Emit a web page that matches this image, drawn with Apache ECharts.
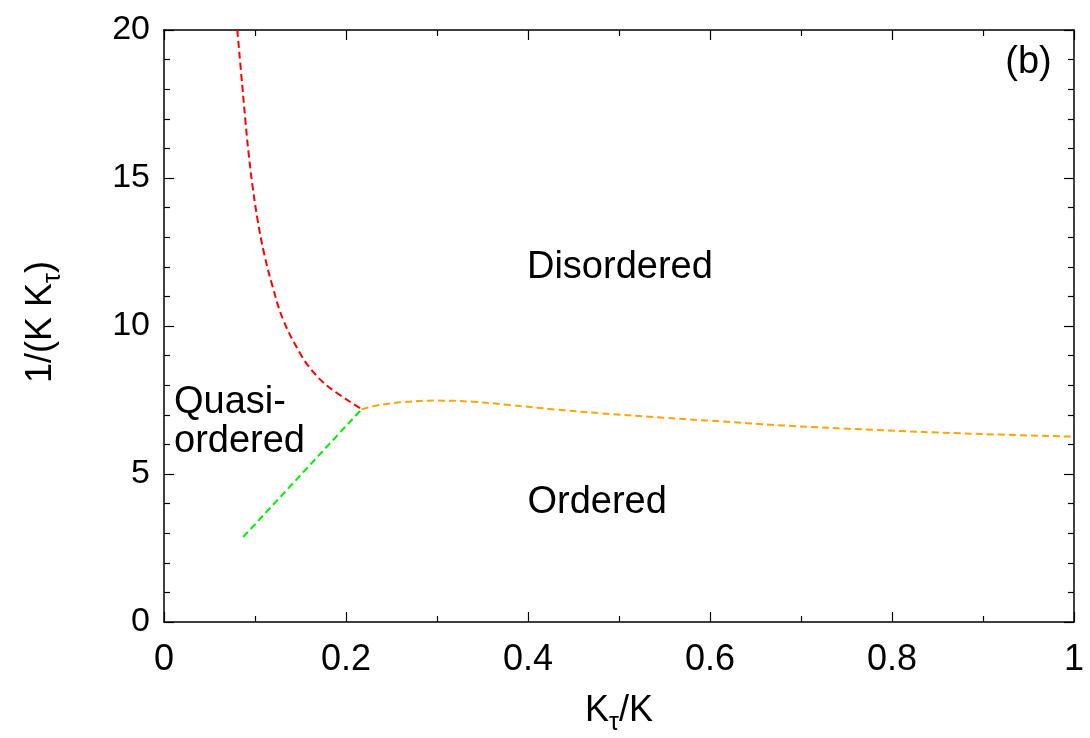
<!DOCTYPE html>
<html>
<head>
<meta charset="utf-8">
<script src="https://cdn.jsdelivr.net/npm/echarts@6/dist/echarts.min.js"></script>
<style>
  html, body { margin: 0; padding: 0; background: #fff; }
  #chart { width: 1090px; height: 738px; }
</style>
</head>
<body>
<div id="chart"></div>
<script>
// phase boundaries [Kτ/K, 1/(K Kτ)]
const redLine = [
  [0.0806, 20.0], [0.0861, 18.08], [0.0894, 16.96], [0.0930, 15.83],
  [0.0974, 14.71], [0.1029, 13.58], [0.110, 12.45], [0.1194, 11.33],
  [0.1311, 10.20], [0.1495, 9.08], [0.1623, 8.51], [0.1806, 7.95],
  [0.2172, 7.19]
];
const greenLine = [[0.087, 2.87], [0.2172, 7.19]];
const orangeLine = [
  [0.2172, 7.19], [0.235, 7.32], [0.26, 7.42], [0.30, 7.48], [0.34, 7.44],
  [0.38, 7.33], [0.43, 7.18], [0.48, 7.05], [0.55, 6.90], [0.60, 6.80],
  [0.68, 6.64], [0.78, 6.49], [0.88, 6.37], [1.0, 6.26]
];
// region labels  [x, y, text, align]
const annotations = [
  [0.501, 11.96, 'Disordered', 'center'],
  [0.476, 4.02, 'Ordered', 'center'],
  [0.011, 6.77, 'Quasi-\nordered', 'left'],
  [0.95, 18.9, '(b)', 'center']
];
const xTicks = { min: 0, max: 1, interval: 0.2 };
const yTicks = { min: 0, max: 20, interval: 5 };
const xTitle = '{big|K}{sub|τ}{big|/K}';
const yTitle = '{big|1/(K K}{sub|τ}{big|)}';

const font = 'Liberation Sans, Arial, Helvetica, sans-serif';
const chart = echarts.init(document.getElementById('chart'));

function dashed(color) {
  return { color: color, width: 2, type: [7, 4] };
}

const axisLine = { show: true, onZero: false, lineStyle: { color: '#000', width: 1.5 } };
const tick = { inside: true, length: 10, lineStyle: { color: '#000', width: 1.2 } };
const minor = n => ({ show: true, splitNumber: n, length: 6, lineStyle: { color: '#000', width: 1.2 } });

// axis titles with a subscript tau (rich text in the axis name came out too small)
const titleRich = {
  big: { fontSize: 36, fontFamily: font, color: '#000', lineHeight: 44 },
  sub: { fontSize: 25, fontFamily: font, color: '#000', lineHeight: 44, padding: [24, 0, 0, 0] }
};

const option = {
  animation: false,
  backgroundColor: '#fff',
  grid: { left: 164, right: 16, top: 30, bottom: 116 },
  xAxis: [
    {
      type: 'value', min: xTicks.min, max: xTicks.max, interval: xTicks.interval,
      position: 'bottom',
      axisLine: axisLine,
      axisTick: tick,
      minorTick: minor(2),
      splitLine: { show: false },
      axisLabel: {
        margin: 20, color: '#000', fontSize: 36, fontFamily: font,
        formatter: v => String(+v.toFixed(1))
      }
    },
    {
      type: 'value', min: xTicks.min, max: xTicks.max, interval: xTicks.interval,
      position: 'top',
      axisLine: axisLine,
      axisTick: tick,
      minorTick: minor(2),
      splitLine: { show: false },
      axisLabel: { show: false }
    }
  ],
  yAxis: [
    {
      type: 'value', min: yTicks.min, max: yTicks.max, interval: yTicks.interval,
      position: 'left',
      axisLine: axisLine,
      axisTick: tick,
      minorTick: minor(5),
      splitLine: { show: false },
      axisLabel: { margin: 14, color: '#000', fontSize: 34, fontFamily: font }
    },
    {
      type: 'value', min: yTicks.min, max: yTicks.max, interval: yTicks.interval,
      position: 'right',
      axisLine: axisLine,
      axisTick: tick,
      minorTick: minor(5),
      splitLine: { show: false },
      axisLabel: { show: false }
    }
  ],
  graphic: [
    {
      type: 'text', x: 619, y: 711,
      style: { text: xTitle, rich: titleRich, font: '36px ' + font, align: 'center', verticalAlign: 'middle' }
    },
    {
      type: 'text', x: 41, y: 322, rotation: Math.PI / 2,
      style: { text: yTitle, rich: titleRich, font: '36px ' + font, align: 'center', verticalAlign: 'middle' }
    }
  ],
  series: [
    {
      type: 'line', data: redLine, showSymbol: false, smooth: 0.4,
      lineStyle: dashed('#ff0000'), z: 3
    },
    {
      type: 'line', data: greenLine, showSymbol: false,
      lineStyle: dashed('#00ee00'), z: 3
    },
    {
      type: 'line', data: orangeLine, showSymbol: false, smooth: 0.4,
      lineStyle: dashed('#ffa500'), z: 3
    },
    {
      type: 'scatter', symbolSize: 0, silent: true,
      itemStyle: { opacity: 1 },
      data: annotations.map(a => ({
        value: [a[0], a[1]], name: a[2],
        label: { align: a[3], color: '#000' }
      })),
      label: {
        show: true, position: 'inside', color: '#000',
        fontSize: 38, fontFamily: font, lineHeight: 39,
        formatter: p => p.name
      }
    }
  ]
};

chart.setOption(option);
</script>
</body>
</html>
